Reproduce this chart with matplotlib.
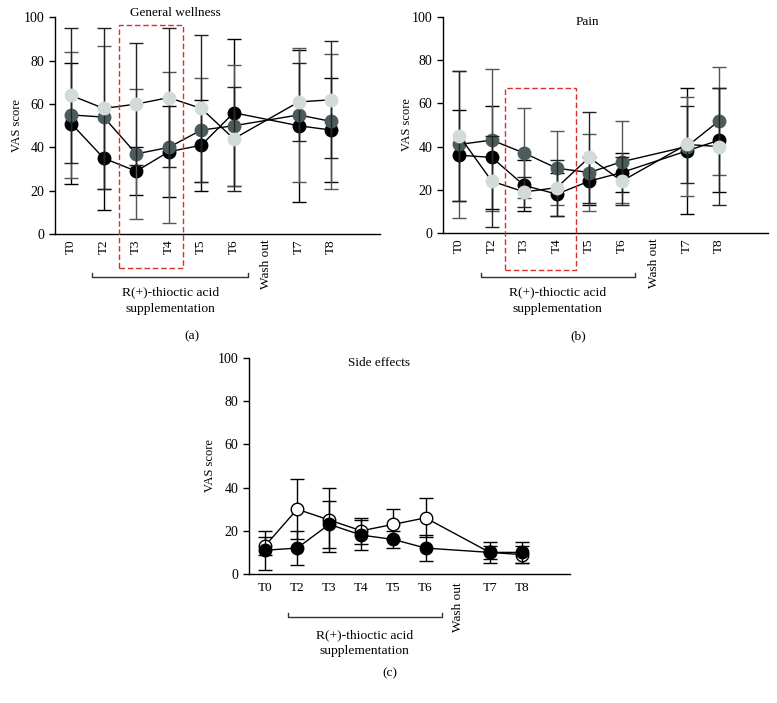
import numpy as np
import matplotlib
matplotlib.use("Agg")
import matplotlib.pyplot as plt
from matplotlib.patches import Rectangle

plt.rcParams['font.family'] = ['Liberation Serif', 'DejaVu Serif']
plt.rcParams['font.size'] = 9.5

labels = ['T0', 'T2', 'T3', 'T4', 'T5', 'T6', 'Wash out', 'T7', 'T8']
pos = [0, 1, 2, 3, 4, 5, 7, 8]  # no measurement at wash out

# (a) general wellness
well_black = [51, 35, 29, 38, 41, 56, 50, 48]
well_black_sd = [28, 24, 11, 21, 21, 34, 35, 24]
well_dark = [55, 54, 37, 40, 48, 50, 55, 52]
well_dark_sd = [29, 33, 30, 35, 24, 28, 31, 31]
well_light = [64, 58, 60, 63, 58, 44, 61, 62]
well_light_sd = [31, 37, 28, 32, 34, 24, 18, 27]

# (b) pain
pain_black = [36, 35, 22, 18, 24, 28, 38, 43]
pain_black_sd = [21, 24, 12, 10, 11, 9, 29, 24]
pain_dark = [41, 43, 37, 30, 28, 33, 40, 52]
pain_dark_sd = [34, 33, 21, 17, 18, 19, 23, 25]
pain_light = [45, 24, 19, 21, 35, 24, 41, 40]
pain_light_sd = [30, 21, 7, 13, 21, 11, 18, 27]

# (c) side effects
side_open = [13, 30, 25, 20, 23, 26, 10, 9]
side_open_sd = [4, 14, 15, 6, 7, 9, 5, 4]
side_black = [11, 12, 23, 18, 16, 12, 10, 10]
side_black_sd = [9, 8, 11, 7, 4, 6, 3, 5]

DARK = '#4c5c5c'
LIGHT = '#d3dbd9'
RED = '#d9302c'

W, H = 777, 703
fig = plt.figure(figsize=(W / 100, H / 100), dpi=100)


def px_axes(left, right, top, bottom):
    return fig.add_axes([left / W, 1 - bottom / H, (right - left) / W, (bottom - top) / H])


def style(ax, rot, ylab_px):
    ax.set_xlim(-0.5, 9.5)
    ax.set_ylim(0, 100)
    ax.set_yticks([0, 20, 40, 60, 80, 100])
    ax.set_xticks(range(9))
    ax.set_xticklabels(labels, rotation=rot)
    ax.tick_params(axis='x', length=0, pad=4 if rot else 6, labelsize=9.5)
    ax.tick_params(axis='y', length=4, width=1, direction='out', labelsize=10)
    for s in ['top', 'right']:
        ax.spines[s].set_visible(False)
    for s in ['left', 'bottom']:
        ax.spines[s].set_linewidth(1)
    ax.set_ylabel('VAS score', fontsize=9)
    ax.yaxis.set_label_coords(ylab_px, 0.5)


def series(ax, y, sd, face, edge, ecol, z):
    ax.errorbar(pos, y, yerr=sd, fmt='-o', color='black', lw=1,
                mfc=face, mec=edge, mew=1, ms=9, ecolor=ecol,
                elinewidth=1, capsize=4.7, capthick=1, zorder=z)


def bracket(ax, x0, x1, y, ty):
    ax.plot([x0, x0, x1, x1], [y + 2, y, y, y + 2], color='#333333', lw=1, clip_on=False)
    ax.text((x0 + x1) / 2, ty, 'R(+)-thioctic acid\nsupplementation', ha='center', va='center',
            linespacing=1.45, fontsize=9.7)


# panel a
ax = px_axes(55, 380, 17.5, 234)
style(ax, 90, -32 / 325)
series(ax, well_black, well_black_sd, 'black', 'black', 'black', 3)
series(ax, well_dark, well_dark_sd, DARK, DARK, '#555555', 4)
series(ax, well_light, well_light_sd, LIGHT, LIGHT, '#222222', 5)
ax.add_patch(Rectangle((1.48, -15.7), 3.45 - 1.48, 96.5 + 15.7, fill=False, ec=RED,
                       lw=1, ls=(0, (4, 2)), clip_on=False, zorder=6))
ax.text(3.2, 102, 'General wellness', ha='center', va='center', fontsize=9.5)
bracket(ax, 0.65, 5.45, -20, -30.8)
fig.text(192 / W, 1 - 336 / H, '(a)', ha='center', va='center', fontsize=9.7)

# panel b
ax = px_axes(443, 768, 17, 233)
style(ax, 90, -30 / 325)
series(ax, pain_black, pain_black_sd, 'black', 'black', 'black', 3)
series(ax, pain_dark, pain_dark_sd, DARK, DARK, '#555555', 4)
series(ax, pain_light, pain_light_sd, LIGHT, LIGHT, '#222222', 5)
ax.add_patch(Rectangle((1.4, -17), 3.6 - 1.4, 67 + 17, fill=False, ec=RED,
                       lw=1, ls=(0, (4, 2)), clip_on=False, zorder=6))
ax.text(3.94, 97.7, 'Pain', ha='center', va='center', fontsize=9.5)
bracket(ax, 0.67, 5.4, -20.4, -31.3)
fig.text(578 / W, 1 - 336 / H, '(b)', ha='center', va='center', fontsize=9.7)

# panel c
ax = px_axes(249, 570, 358, 574)
style(ax, 0, -33 / 321)
ax.get_xticklabels()[6].set_rotation(90)
ax.get_xticklabels()[6].set_va('top')
series(ax, side_open, side_open_sd, 'white', 'black', 'black', 3)
series(ax, side_black, side_black_sd, 'black', 'black', 'black', 4)
ax.text(3.56, 97.7, 'Side effects', ha='center', va='center', fontsize=9.5)
bracket(ax, 0.71, 5.5, -19.9, -32)
fig.text(390 / W, 1 - 673 / H, '(c)', ha='center', va='center', fontsize=9.7)

fig.savefig('out.png', dpi=100)
